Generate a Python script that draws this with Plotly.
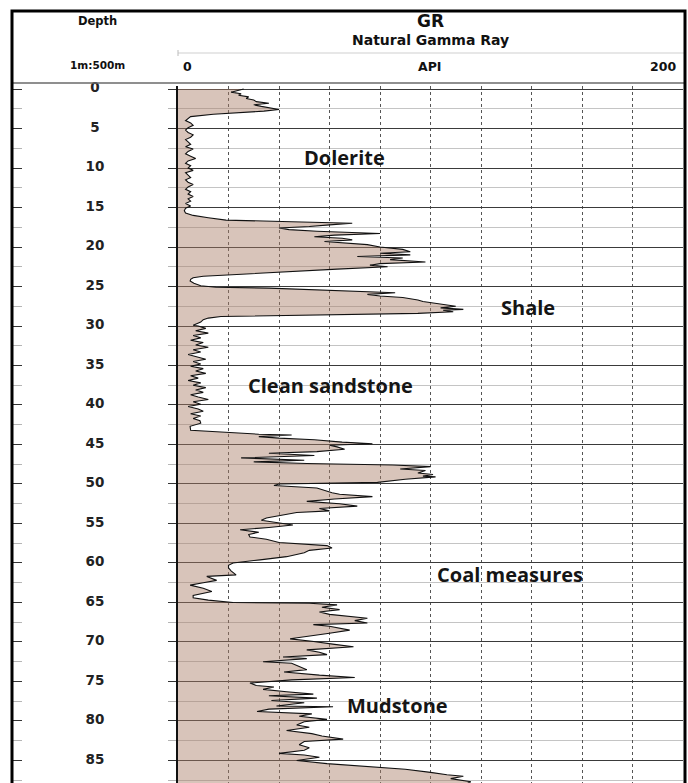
import plotly.graph_objects as go

# Natural gamma ray log (API) against depth (m)
DEPTH_M = [
    0.0, 0.2, 0.4, 0.6, 0.8, 1.0, 1.2, 1.4, 1.6, 1.8, 2.0, 2.2, 2.4, 2.6, 2.8, 3.0, 3.2, 3.5, 3.8,
    4.0, 4.3, 4.6, 4.9, 5.2, 5.5, 5.8, 6.1, 6.4, 6.7, 7.0, 7.3, 7.6, 7.9, 8.2, 8.5, 8.8, 9.1, 9.4,
    9.7, 10.0, 10.3, 10.6, 10.9, 11.2, 11.5, 11.8, 12.1, 12.4, 12.7, 13.0, 13.3, 13.6, 13.9, 14.2,
    14.5, 14.8, 15.1, 15.4, 15.7, 16.0, 16.3, 16.6, 16.8, 17.0, 17.2, 17.4, 17.6, 17.8, 18.0, 18.3,
    18.5, 18.7, 18.9, 19.1, 19.3, 19.5, 19.7, 20.0, 20.3, 20.6, 20.8, 21.0, 21.2, 21.4, 21.6, 21.9,
    22.1, 22.3, 22.5, 22.8, 23.1, 23.4, 23.7, 23.9, 24.1, 24.3, 24.6, 24.9, 25.1, 25.2, 25.4, 25.6,
    25.8, 26.0, 26.2, 26.4, 26.7, 26.9, 27.1, 27.3, 27.5, 27.7, 27.9, 28.0, 28.2, 28.4, 28.6, 28.8,
    29.0, 29.2, 29.5, 29.9,
    30.0, 30.3, 30.6, 30.9, 31.2, 31.5, 31.8, 32.1, 32.4, 32.7, 33.0, 33.3, 33.6, 33.9, 34.2, 34.5,
    34.8, 35.1, 35.4, 35.7, 36.0, 36.3, 36.6, 36.9, 37.2, 37.5, 37.8, 38.1, 38.4, 38.7, 39.0, 39.3,
    39.6, 39.9, 40.2, 40.5, 40.8, 41.1, 41.4, 41.7, 42.0, 42.3, 42.7, 43.2, 43.5, 43.7, 43.8, 44.0,
    44.2, 44.4, 44.7, 44.9, 45.1, 45.3, 45.6, 45.9, 46.1, 46.4, 46.7, 47.0, 47.2, 47.4, 47.6, 47.8,
    48.1, 48.3, 48.6, 48.8, 49.0, 49.1, 49.4, 49.6, 49.8, 50.0, 50.2, 50.5, 50.8, 51.1, 51.3, 51.6,
    51.9, 52.2, 52.5, 52.8, 53.1, 53.4, 53.6, 53.9, 54.3, 54.6, 54.9, 55.2, 55.5, 55.8, 56.1, 56.4,
    56.7, 57.0, 57.4, 57.6, 57.8, 58.1, 58.4, 58.7, 59.2, 59.6, 60.0, 60.3, 60.6, 61.0, 61.5, 61.7,
    62.2, 62.5, 62.8, 63.2, 63.6, 64.1, 64.4, 64.7, 65.0, 65.1, 65.3, 65.6, 65.9, 66.2, 66.5, 67.0,
    67.3, 67.6, 67.8, 68.0, 68.5, 68.9, 69.3, 69.6, 69.9, 70.1, 70.3, 70.6, 71.0, 71.3, 71.6, 71.9,
    72.1, 72.5, 72.7, 73.1, 73.5, 73.8, 74.2, 74.5, 74.8, 75.2, 75.5, 75.7, 76.0, 76.3, 76.6, 76.8,
    77.1, 77.4, 77.7, 78.1, 78.2, 78.5, 78.8, 79.1, 79.4, 79.8, 80.1, 80.5, 80.8, 81.2, 81.6, 81.9,
    82.3, 82.6, 83.0, 83.4, 83.7, 84.1, 84.3, 84.6, 85.0, 85.4, 85.8, 86.1, 86.5, 86.8, 87.0, 87.3,
    87.7, 88.0,
]
GR_API = [
    26, 23, 21, 25, 24, 28, 27, 30, 31, 36, 30, 33, 36, 40, 34, 24, 14, 5, 4,
    3, 5, 6, 4, 3, 4, 6, 5, 3, 4, 5, 3, 6, 4, 3, 5, 7, 4, 3,
    5, 4, 6, 3, 4, 5, 3, 4, 6, 4, 3, 5, 4, 6, 4, 5,
    3, 5, 3, 2.5, 3, 6, 12, 19, 45, 69, 60, 52, 40, 44, 55, 80,
    62, 54, 65, 69, 58, 66, 75, 80, 89, 92, 80, 92, 71, 89, 84, 98,
    80, 76, 83, 63, 45, 25, 10, 6, 5, 4.8, 6.3, 9, 15, 36, 55, 71,
    86, 75, 80, 89, 95, 97, 102, 106, 110, 104, 113, 105, 109, 95, 60, 17,
    12, 10, 9, 6,
    8, 11, 7, 12, 6, 9, 5, 10, 7, 12, 6, 9, 4, 8, 11, 6,
    9, 5, 10, 7, 11, 5, 8, 4, 9, 6, 11, 7, 10, 5, 8, 12,
    6, 9, 4, 8, 10, 5, 9, 6, 8.7, 9, 4.8, 5, 20, 32, 45, 32,
    40, 54, 65, 77, 60, 63, 66, 55, 36, 54, 25, 50, 30, 51, 85, 100,
    88, 98, 95, 101, 97, 102, 90, 85, 79, 40, 38, 55, 58, 61, 64, 77,
    62, 51, 64, 71, 56, 60, 47, 42, 35, 33, 40, 45.5, 36, 24.6, 32, 28,
    28.5, 35, 40, 50, 59, 61, 52, 50, 43, 32.5, 21.8, 20, 20, 21, 23, 11.4,
    15.3, 10, 4.8, 10, 13.4, 6, 6, 12, 21.8, 52, 63, 57, 64, 56, 60, 75,
    70, 75, 53.6, 60, 68, 60, 52, 44.4, 53, 57, 62, 69.5, 51, 56, 59, 41.6,
    51, 33.7, 45, 48, 51, 42, 56, 70, 45, 28.5, 31, 38, 33.7, 43, 53.6, 36,
    55, 37, 50, 39, 61.4, 36, 31.3, 53, 48, 59, 50, 47, 52, 43, 53, 57,
    65.4, 50, 48, 52, 50, 40, 50, 56, 47, 59, 79, 90, 100, 106.5, 113, 108,
    116, 114,
]

DEPTH_TICKS = list(range(0, 90, 5))

LITHOLOGY = ["Dolerite", "Shale", "Clean sandstone", "Coal measures", "Mudstone"]
LITH_API = [66, 138.5, 60.5, 131.5, 87]
LITH_DEPTH = [8.7, 27.7, 37.5, 61.5, 78.1]

W, H = 688, 783


def px(x):
    return x / W


def py(y):
    return 1 - y / H


TRACK_L, TRACK_R, COL_L, TOP = 178, 683, 12, 86
Y_RANGE = [87.85, -0.38]
HEAD_FONT = "DejaVu Sans, Liberation Sans, sans-serif"
LABEL_FONT = "Open Sans, Lato, sans-serif"

fig = go.Figure()

# GR curve shaded back to zero API
fig.add_trace(go.Scatter(
    x=GR_API, y=DEPTH_M, xaxis="x2", yaxis="y2",
    mode="lines", fill="tozerox",
    fillcolor="rgba(169,124,102,0.45)",
    line=dict(color="#111111", width=1.1),
    hoverinfo="skip",
))

# depth labels down the depth column
fig.add_trace(go.Scatter(
    x=[0.5] * len(DEPTH_TICKS), y=DEPTH_TICKS, xaxis="x", yaxis="y",
    mode="text", text=[str(d) for d in DEPTH_TICKS],
    textfont=dict(family=HEAD_FONT, size=13.5, color="#222222", weight="bold"),
    textposition="middle center", cliponaxis=False, hoverinfo="skip",
))

for name, xa, ya in zip(LITHOLOGY, LITH_API, LITH_DEPTH):
    fig.add_annotation(
        x=xa, y=ya, xref="x2", yref="y2", text=name, showarrow=False,
        font=dict(family=LABEL_FONT, size=20, color="#151515", weight="bold"),
    )

dom_y = [0, py(TOP)]

fig.update_layout(
    width=W, height=H,
    margin=dict(l=0, r=0, t=0, b=0),
    paper_bgcolor="white", plot_bgcolor="white",
    showlegend=False, hovermode=False,
    xaxis=dict(domain=[px(COL_L), px(TRACK_L)], range=[0, 1], visible=False,
               fixedrange=True),
    yaxis=dict(domain=dom_y, anchor="x", range=Y_RANGE, showgrid=False,
               zeroline=False, showticklabels=False, ticks="inside", ticklen=10,
               tickwidth=1.2, tickcolor="#333333", tick0=0, dtick=5,
               minor=dict(ticks="inside", ticklen=10, tickcolor="#b5b5b5",
                          tick0=0, dtick=2.5, showgrid=False),
               showline=False),
    xaxis2=dict(domain=[px(TRACK_L), px(TRACK_R)], anchor="y2", range=[0, 200],
                showticklabels=False, zeroline=False, showgrid=True,
                tick0=0, dtick=20, gridcolor="#555555", gridwidth=1.4,
                griddash="dot", ticks=""),
    yaxis2=dict(domain=dom_y, anchor="x2", range=Y_RANGE, showticklabels=False,
                zeroline=False, showgrid=True, gridcolor="#3a3a3a", gridwidth=1.4,
                tick0=0, dtick=5, ticks="outside", ticklen=8, tickcolor="#333333",
                tickwidth=1.2,
                minor=dict(ticks="outside", ticklen=8, tickcolor="#b5b5b5",
                           tick0=0, dtick=2.5, showgrid=True,
                           gridcolor="#c4c4c4", gridwidth=1),
                showline=True, linecolor="#111111", linewidth=1.5),
)

# header texts
header = [
    ("Depth", 97, 21, 11.5),
    ("1m:500m", 97, 65, 10.5),
    ("GR", 430, 21, 17),
    ("Natural Gamma Ray", 430, 40, 14),
    ("0", 187, 67, 12.5),
    ("API", 430, 67, 12.5),
    ("200", 663, 67, 12.5),
]
for txt, x, y, s in header:
    fig.add_annotation(
        x=px(x), y=py(y), xref="paper", yref="paper", text=txt, showarrow=False,
        xanchor="center", yanchor="middle",
        font=dict(family=HEAD_FONT, size=s, color="#111111", weight="bold"),
    )

shapes = [
    # scale line under the curve title
    dict(type="line", xref="paper", yref="paper", x0=px(TRACK_L), x1=px(684),
         y0=py(53), y1=py(53), line=dict(color="#cfcfcf", width=1.2)),
    dict(type="line", xref="paper", yref="paper", x0=px(TRACK_L), x1=px(TRACK_L),
         y0=py(50), y1=py(56), line=dict(color="#bbbbbb", width=1)),
    # header separator
    dict(type="line", xref="paper", yref="paper", x0=px(COL_L), x1=px(685),
         y0=py(83), y1=py(83), line=dict(color="#6a6a6a", width=1.5)),
    # outer frame
    dict(type="rect", xref="paper", yref="paper", x0=px(COL_L), x1=px(685),
         y0=py(800), y1=py(11), line=dict(color="#000000", width=3)),
]
fig.update_layout(shapes=shapes)

fig.write_html("out.html")
